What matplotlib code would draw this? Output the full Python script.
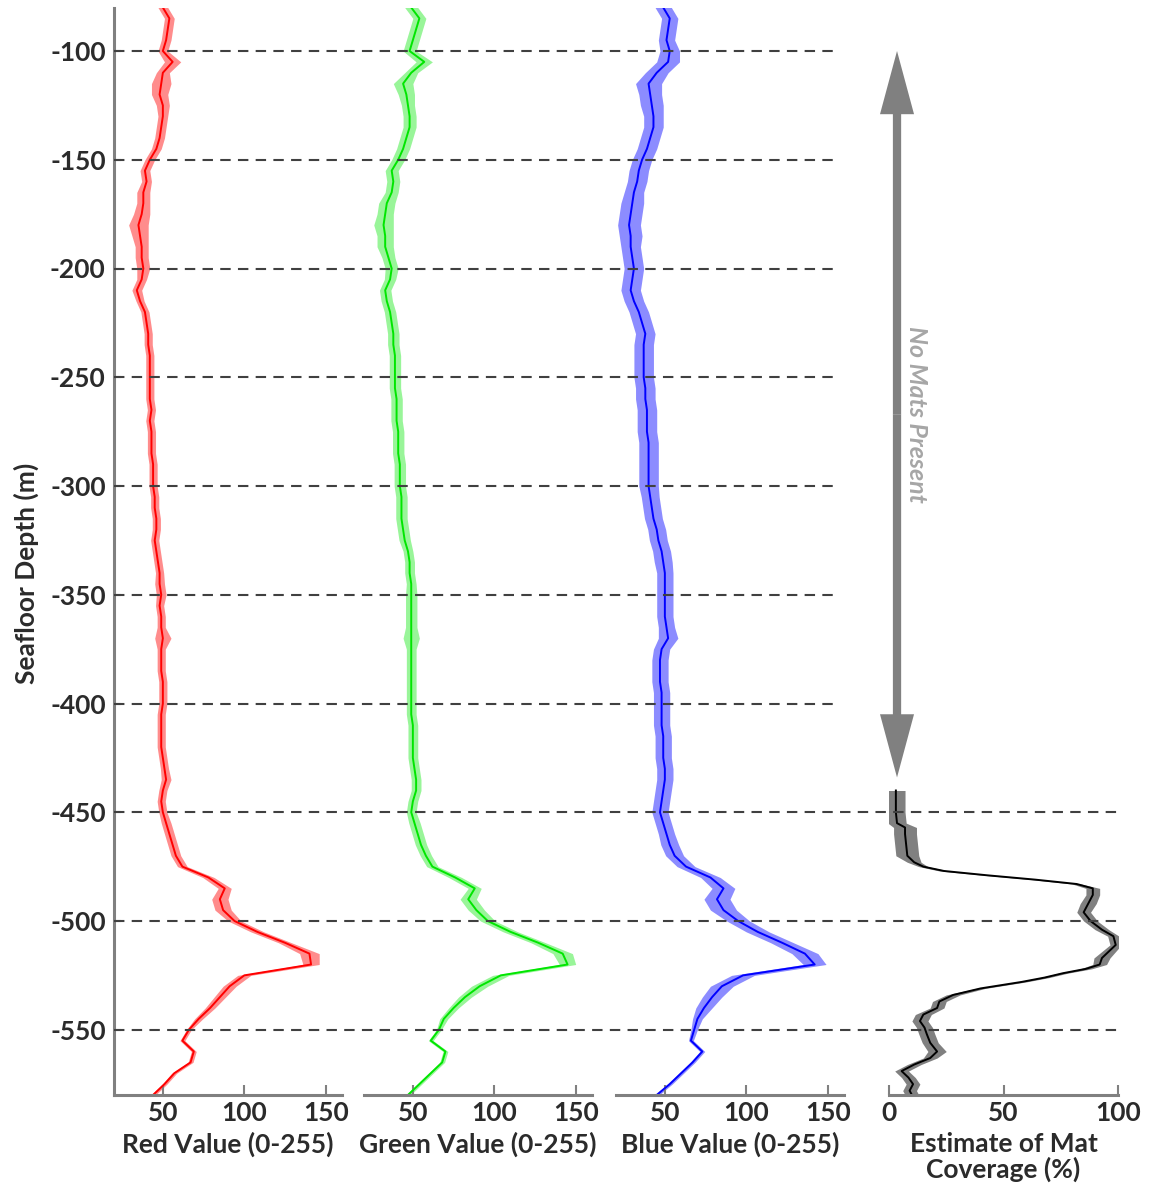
import numpy as np
import matplotlib.pyplot as plt
from matplotlib.patches import FancyArrowPatch

plt.rcParams['font.family'] = ['Lato', 'DejaVu Sans']
plt.rcParams['font.weight'] = 'bold'
plt.rcParams['axes.labelweight'] = 'bold'
plt.rcParams['axes.unicode_minus'] = False

# depth grid (m), 5 m steps from -80 to -580
depth = np.arange(-80, -581, -5)

# mean colour values per depth (0-255)
red = [50, 54, 53, 52, 50, 56, 50, 49, 48, 50,
       50, 49, 48, 46, 42, 39, 40, 38, 38, 37,
       35, 36, 37, 37, 38, 37, 34, 36, 39, 40,
       41, 41, 42, 42, 42, 42, 42, 43, 42, 43,
       43, 43, 44, 44, 44, 45, 45, 46, 46, 45,
       46, 47, 48, 48, 49, 48, 49, 49, 50, 49,
       49, 49, 50, 50, 50, 49, 49, 49, 49, 50,
       51, 52, 50, 49, 50, 52, 54, 56, 58, 62,
       78, 88, 85, 87, 94, 108, 125, 140, 141, 100,
       91, 85, 79, 72, 66, 62, 69, 67, 57, 51,
       44]
red_err = [3, 3, 3, 3, 3, 5, 4, 6, 5, 4,
           3, 3, 3, 3, 3, 3, 3, 4, 4, 5,
           6, 5, 4, 4, 4, 3, 3, 2.5, 2.5, 2.5,
           2.5, 2.5, 2.5, 2.5, 2.5, 2.5, 2.5, 2.5, 2.5, 2.5,
           2.5, 2.5, 2.5, 2.5, 2.5, 2.5, 2.5, 2.5, 2.5, 2.5,
           2.5, 2.5, 2.5, 3, 3, 2.5, 2.5, 2.5, 5, 2.5,
           2.5, 2.5, 2.5, 2.5, 2.5, 2.5, 2.5, 2.5, 2.5, 2.5,
           2.5, 3, 2.5, 2.5, 2.5, 3, 3, 3, 3, 3,
           3.5, 4, 5, 5, 4, 4, 4, 6, 5, 4,
           4, 3.5, 3, 2.5, 1.5, 1.5, 1.5, 1.5, 1.5, 1.5,
           1.5]

green = [49, 54, 52, 50, 48, 57, 49, 44, 46, 47,
         48, 48, 46, 44, 41, 37, 38, 37, 34, 33,
         32, 33, 33, 35, 37, 36, 33, 34, 36, 37,
         38, 38, 39, 39, 39, 39, 40, 40, 40, 41,
         41, 41, 42, 42, 42, 43, 43, 43, 44, 45,
         47, 48, 48, 49, 49, 49, 49, 49, 49, 49,
         49, 49, 49, 49, 49, 49, 50, 50, 50, 50,
         51, 52, 52, 50, 49, 51, 53, 55, 58, 62,
         76, 88, 84, 89, 96, 110, 127, 142, 145, 104,
         91, 82, 75, 69, 66, 61, 70, 68, 61, 54,
         47]
green_err = [4, 4, 4, 4, 4, 5, 4, 6, 5, 4,
             4, 4, 4, 4, 4, 4, 4, 4, 5, 5,
             6, 5, 5, 4, 4, 3.5, 3.5, 3.5, 3.5, 3.5,
             3.5, 3.5, 3.5, 3.5, 3.5, 3.5, 3.5, 3.5, 3.5, 3.5,
             3.5, 3.5, 3.5, 3.5, 3.5, 3.5, 3.5, 3.5, 3.5, 3.5,
             3, 3, 3, 3, 3.5, 3.5, 3.5, 3.5, 5, 3,
             3, 3, 3, 3, 3, 3, 3, 3, 3, 3,
             3, 3, 3, 3, 3, 3.5, 3.5, 3.5, 3.5, 3.5,
             4, 4, 5, 5, 4.5, 4.5, 4.5, 6, 5, 5,
             5, 4, 3, 2.5, 1.5, 1.5, 1.5, 1.5, 1.5, 1.5,
             1.5]

blue = [49, 53, 52, 51, 53, 52, 45, 40, 41, 42,
        43, 43, 41, 39, 36, 34, 33, 31, 30, 29,
        28, 29, 29, 30, 31, 30, 29, 31, 34, 36,
        38, 37, 37, 37, 37, 38, 38, 39, 39, 39,
        40, 40, 40, 40, 40, 41, 42, 43, 45, 46,
        48, 49, 50, 50, 50, 50, 50, 51, 52, 48,
        47, 47, 47, 48, 48, 48, 48, 49, 49, 49,
        50, 50, 49, 48, 47, 49, 51, 53, 56, 63,
        78, 86, 82, 86, 95, 107, 122, 136, 142, 98,
        85, 79, 74, 70, 68, 66, 73, 67, 60, 53,
        45]
blue_err = [5, 5, 5, 5, 6, 7, 7, 8, 7, 7,
            6, 6, 6, 6, 6, 6, 6, 6, 7, 7,
            7, 7, 6, 6, 6, 6, 6, 6, 6, 6,
            6, 6, 6, 6, 6, 6, 6, 6, 6, 6,
            6, 6, 6, 6, 6, 5.5, 5.5, 5.5, 5.5, 5.5,
            5.5, 5.5, 5, 5, 5, 5, 5, 5, 6, 5,
            5, 5, 5, 5, 5, 5, 5, 5, 5, 5,
            5, 5, 5, 5, 5, 5, 5, 5.5, 5.5, 5.5,
            6, 7, 8, 8, 7, 7, 7, 8, 7, 7,
            7, 6, 5, 3, 2, 1.5, 1.5, 1.5, 1.5, 1.5,
            1.5]

# mat coverage estimate (%)
cov_depth = [-440, -445, -450, -455, -457, -460, -465, -470, -473, -475,
             -477, -479, -481, -483, -485, -488, -492, -496, -500, -504,
             -507, -511, -514, -517, -520, -522, -524, -526, -528, -531,
             -534, -537, -540, -543, -546, -549, -552, -556, -560, -563,
             -566, -569, -572, -575, -578, -580]
coverage = [3, 3, 3, 3.5, 7, 7, 7.5, 8, 11, 15,
            24, 43, 64, 82, 89, 89, 87, 85, 88, 93,
            98, 99, 96, 93, 92, 86, 76, 68, 58, 40,
            28, 22, 21, 15, 13.5, 15.5, 16.5, 18, 21, 18,
            11, 5.5, 8.5, 10.5, 9, 10]
coverage_err = [4, 4, 4, 4, 5, 5, 5, 5, 3, 2,
                2, 1.5, 1.5, 2, 3, 3, 3.5, 3, 3, 3,
                2.5, 2.5, 3, 3.5, 3, 2.5, 2, 2, 2, 2,
                3, 3, 3, 3.5, 3.5, 3.5, 3.5, 3.5, 4, 3,
                3, 3, 3, 3, 3, 3]

grid_levels = [-100, -150, -200, -250, -300, -350, -400, -450, -500, -550]

W, H = 1151, 1189
fig = plt.figure(figsize=(W / 100, H / 100), dpi=100)

bottom = 94 / H
height = 1087.5 / H
spine_col = '#808080'
text_col = '#2b2b2b'


def style_axes(ax, xlim, xticks, xlabel, left=False):
    ax.set_xlim(*xlim)
    ax.set_ylim(-580, -80)
    ax.set_xticks(xticks)
    for s in ['top', 'right']:
        ax.spines[s].set_visible(False)
    ax.spines['bottom'].set_color(spine_col)
    ax.spines['bottom'].set_linewidth(2.2)
    ax.tick_params(axis='x', direction='in', length=7, width=1.5, color=spine_col,
                   labelcolor=text_col, labelsize=19, pad=4)
    ax.set_xlabel(xlabel, fontsize=19, color=text_col, labelpad=5, linespacing=1.05)
    if left:
        ax.spines['left'].set_color(spine_col)
        ax.spines['left'].set_linewidth(2.2)
        ax.set_yticks(grid_levels)
        ax.tick_params(axis='y', direction='in', length=5, width=1.5, color=spine_col,
                       labelcolor=text_col, labelsize=19, pad=6)
        ax.set_ylabel('Seafloor Depth (m)', fontsize=19, color=text_col)
        ax.yaxis.set_label_coords(-0.33, 0.48)
    else:
        ax.spines['left'].set_visible(False)
        ax.set_yticks([])
    ax.patch.set_visible(False)


panels = [
    (114, red, red_err, '#ff0000', 0.45, 'Red Value (0-255)'),
    (364, green, green_err, '#00e600', 0.4, 'Green Value (0-255)'),
    (616, blue, blue_err, '#0000ff', 0.45, 'Blue Value (0-255)'),
]

for left_px, vals, err, col, alpha, label in panels:
    ax = fig.add_axes([left_px / W, bottom, 228 / W, height])
    vals = np.array(vals, dtype=float)
    err = np.array(err, dtype=float)
    ax.fill_betweenx(depth, vals - err, vals + err, color=col, alpha=alpha, lw=0)
    ax.plot(vals, depth, color=col, lw=1.4)
    style_axes(ax, (20, 160), [50, 100, 150], label, left=(left_px == 114))

# coverage panel
ax4 = fig.add_axes([889 / W, bottom, 229 / W, height])
cv = np.array(coverage, dtype=float)
ce = np.array(coverage_err, dtype=float)
ax4.fill_betweenx(cov_depth, cv - ce, cv + ce, color='#808080', lw=0)
ax4.plot(cv, cov_depth, color='black', lw=1.4)
style_axes(ax4, (0, 100), [0, 50, 100], 'Estimate of Mat\nCoverage (%)')

arrow_x = 3.5
for end in (-100, -434):
    ax4.add_patch(FancyArrowPatch((arrow_x, -267), (arrow_x, end),
                                  arrowstyle='simple,head_length=1.3,head_width=0.7,tail_width=0.17',
                                  mutation_scale=35, color='#808080', lw=0,
                                  shrinkA=0, shrinkB=0, clip_on=False))
ax4.text(11.8, -267, 'No Mats Present', rotation=-90, ha='center', va='center',
         color='#a6a6a6', fontsize=18, fontweight='bold', style='italic')

# dashed depth lines drawn over all panels
ov = fig.add_axes([114 / W, bottom, (1118 - 114) / W, height])
ov.set_xlim(0, 1)
ov.set_ylim(-580, -80)
ov.axis('off')
short = (837 - 114) / (1118 - 114)
for lv in grid_levels:
    ov.axhline(lv, xmin=0, xmax=short if lv > -450 else 1, color='#404040',
               lw=1.5, linestyle=(0, (5, 3.5)))

fig.savefig('out.png', dpi=100)
